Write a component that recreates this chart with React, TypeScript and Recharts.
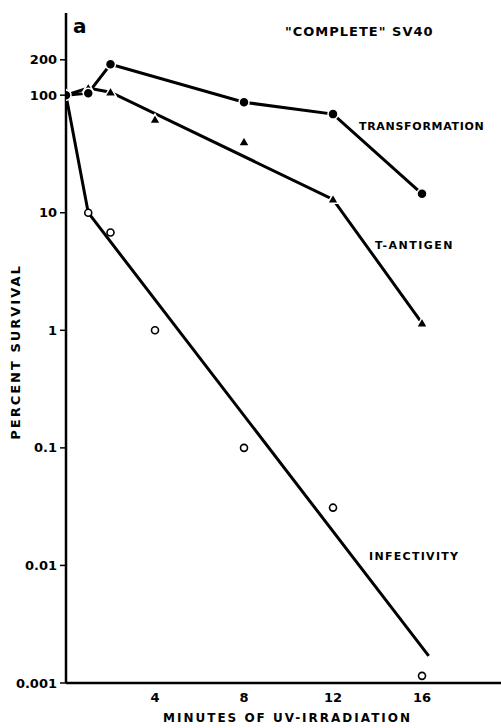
import React from 'react';
import { ComposedChart, Line, Scatter, XAxis, YAxis } from 'recharts';

// minutes of UV-irradiation vs percent survival (log scale)
const transformMinutes = [0, 1, 2, 8, 12, 16];
const transformSurvival = [100, 104, 183, 87, 69, 14.5];

const antigenMinutes = [0, 1, 2, 4, 8, 12, 16];
const antigenSurvival = [100, 115, 106, 62, 40, 13, 1.15];
const antigenLineMinutes = [0, 1, 2, 12, 16];
const antigenLineSurvival = [100, 115, 106, 13, 1.15];

const infectMinutes = [1, 2, 4, 8, 12, 16];
const infectSurvival = [10, 6.8, 1.0, 0.1, 0.031, 0.00115];
const infectLineMinutes = [0, 1, 16.3];
const infectLineSurvival = [100, 10, 0.0017];

const xTicks = [4, 8, 12, 16];
const yTicks = [0.001, 0.01, 0.1, 1, 10, 100, 200];

const toPoints = (xs: number[], ys: number[]) => xs.map((x, i) => ({ x, y: ys[i] }));

const FONT = '"DejaVu Sans", sans-serif';

const Dot = (props: any) => (
  <circle cx={props.cx} cy={props.cy} r={5} fill="#000" stroke="#fff" strokeWidth={1.5} />
);
const Tri = (props: any) => {
  const { cx, cy } = props;
  return (
    <polygon
      points={`${cx},${cy - 5.5} ${cx + 5.5},${cy + 4} ${cx - 5.5},${cy + 4}`}
      fill="#000"
      stroke="#fff"
      strokeWidth={1.5}
    />
  );
};
const Ring = (props: any) => (
  <circle cx={props.cx} cy={props.cy} r={3.5} fill="#fff" stroke="#000" strokeWidth={1.6} />
);

const fmtY = (v: number) => String(v);

const label = (text: string, left: number, top: number, size = 11, extra: React.CSSProperties = {}) => (
  <div
    style={{
      position: 'absolute',
      left,
      top,
      fontFamily: FONT,
      fontWeight: 700,
      fontSize: size,
      letterSpacing: 1,
      whiteSpace: 'nowrap',
      color: '#000',
      ...extra,
    }}
  >
    {text}
  </div>
);

export default function App() {
  const tickStyle = { fontFamily: FONT, fontWeight: 700, fontSize: 13, fill: '#000' };
  return (
    <div style={{ position: 'absolute', left: 0, top: 0, width: 501, height: 728, background: '#fff' }}>
      <ComposedChart width={501} height={728} margin={{ top: 13, right: 0, bottom: 0, left: 0 }}>
        <XAxis
          xAxisId="top"
          orientation="top"
          type="number"
          dataKey="x"
          domain={[0, 19.55]}
          tick={false}
          tickLine={false}
          height={0}
          axisLine={{ stroke: '#000', strokeWidth: 2 }}
        />
        <XAxis
          type="number"
          dataKey="x"
          domain={[0, 19.55]}
          ticks={xTicks}
          tickLine={false}
          tickSize={6}
          tickMargin={4}
          height={45}
          axisLine={{ stroke: '#000', strokeWidth: 2.5 }}
          tick={tickStyle}
          allowDataOverflow
        />
        <YAxis
          type="number"
          dataKey="y"
          scale="log"
          domain={[0.001, 500]}
          ticks={yTicks}
          tickFormatter={fmtY}
          width={66}
          tickSize={6}
          tickMargin={3}
          tickLine={{ stroke: '#000', strokeWidth: 1.5 }}
          axisLine={{ stroke: '#000', strokeWidth: 2.5 }}
          tick={tickStyle}
          allowDataOverflow
        />
        <Line
          data={toPoints(transformMinutes, transformSurvival)}
          dataKey="y"
          type="linear"
          stroke="#000"
          strokeWidth={3}
          dot={false}
          isAnimationActive={false}
        />
        <Line
          data={toPoints(antigenLineMinutes, antigenLineSurvival)}
          dataKey="y"
          type="linear"
          stroke="#000"
          strokeWidth={3}
          dot={false}
          isAnimationActive={false}
        />
        <Line
          data={toPoints(infectLineMinutes, infectLineSurvival)}
          dataKey="y"
          type="linear"
          stroke="#000"
          strokeWidth={3}
          dot={false}
          isAnimationActive={false}
        />
        <Scatter data={toPoints(infectMinutes, infectSurvival)} shape={Ring} isAnimationActive={false} />
        <Scatter data={toPoints(antigenMinutes, antigenSurvival)} shape={Tri} isAnimationActive={false} />
        <Scatter data={toPoints(transformMinutes, transformSurvival)} shape={Dot} isAnimationActive={false} />
      </ComposedChart>
      {label('a', 73, 14, 20, { letterSpacing: 0 })}
      {label('"COMPLETE"  SV40', 285, 24, 13)}
      {label('TRANSFORMATION', 359, 120, 11, { letterSpacing: 0.7 })}
      {label('T-ANTIGEN', 375, 239, 11, { letterSpacing: 1.5 })}
      {label('INFECTIVITY', 369, 550, 11, { letterSpacing: 1.3 })}
      {label('MINUTES  OF  UV-IRRADIATION', 163, 711, 12, { letterSpacing: 2 })}
      {label('PERCENT  SURVIVAL', 15, 352, 13, {
        letterSpacing: 2,
        transform: 'translate(-50%, -50%) rotate(-90deg)',
      })}
    </div>
  );
}
